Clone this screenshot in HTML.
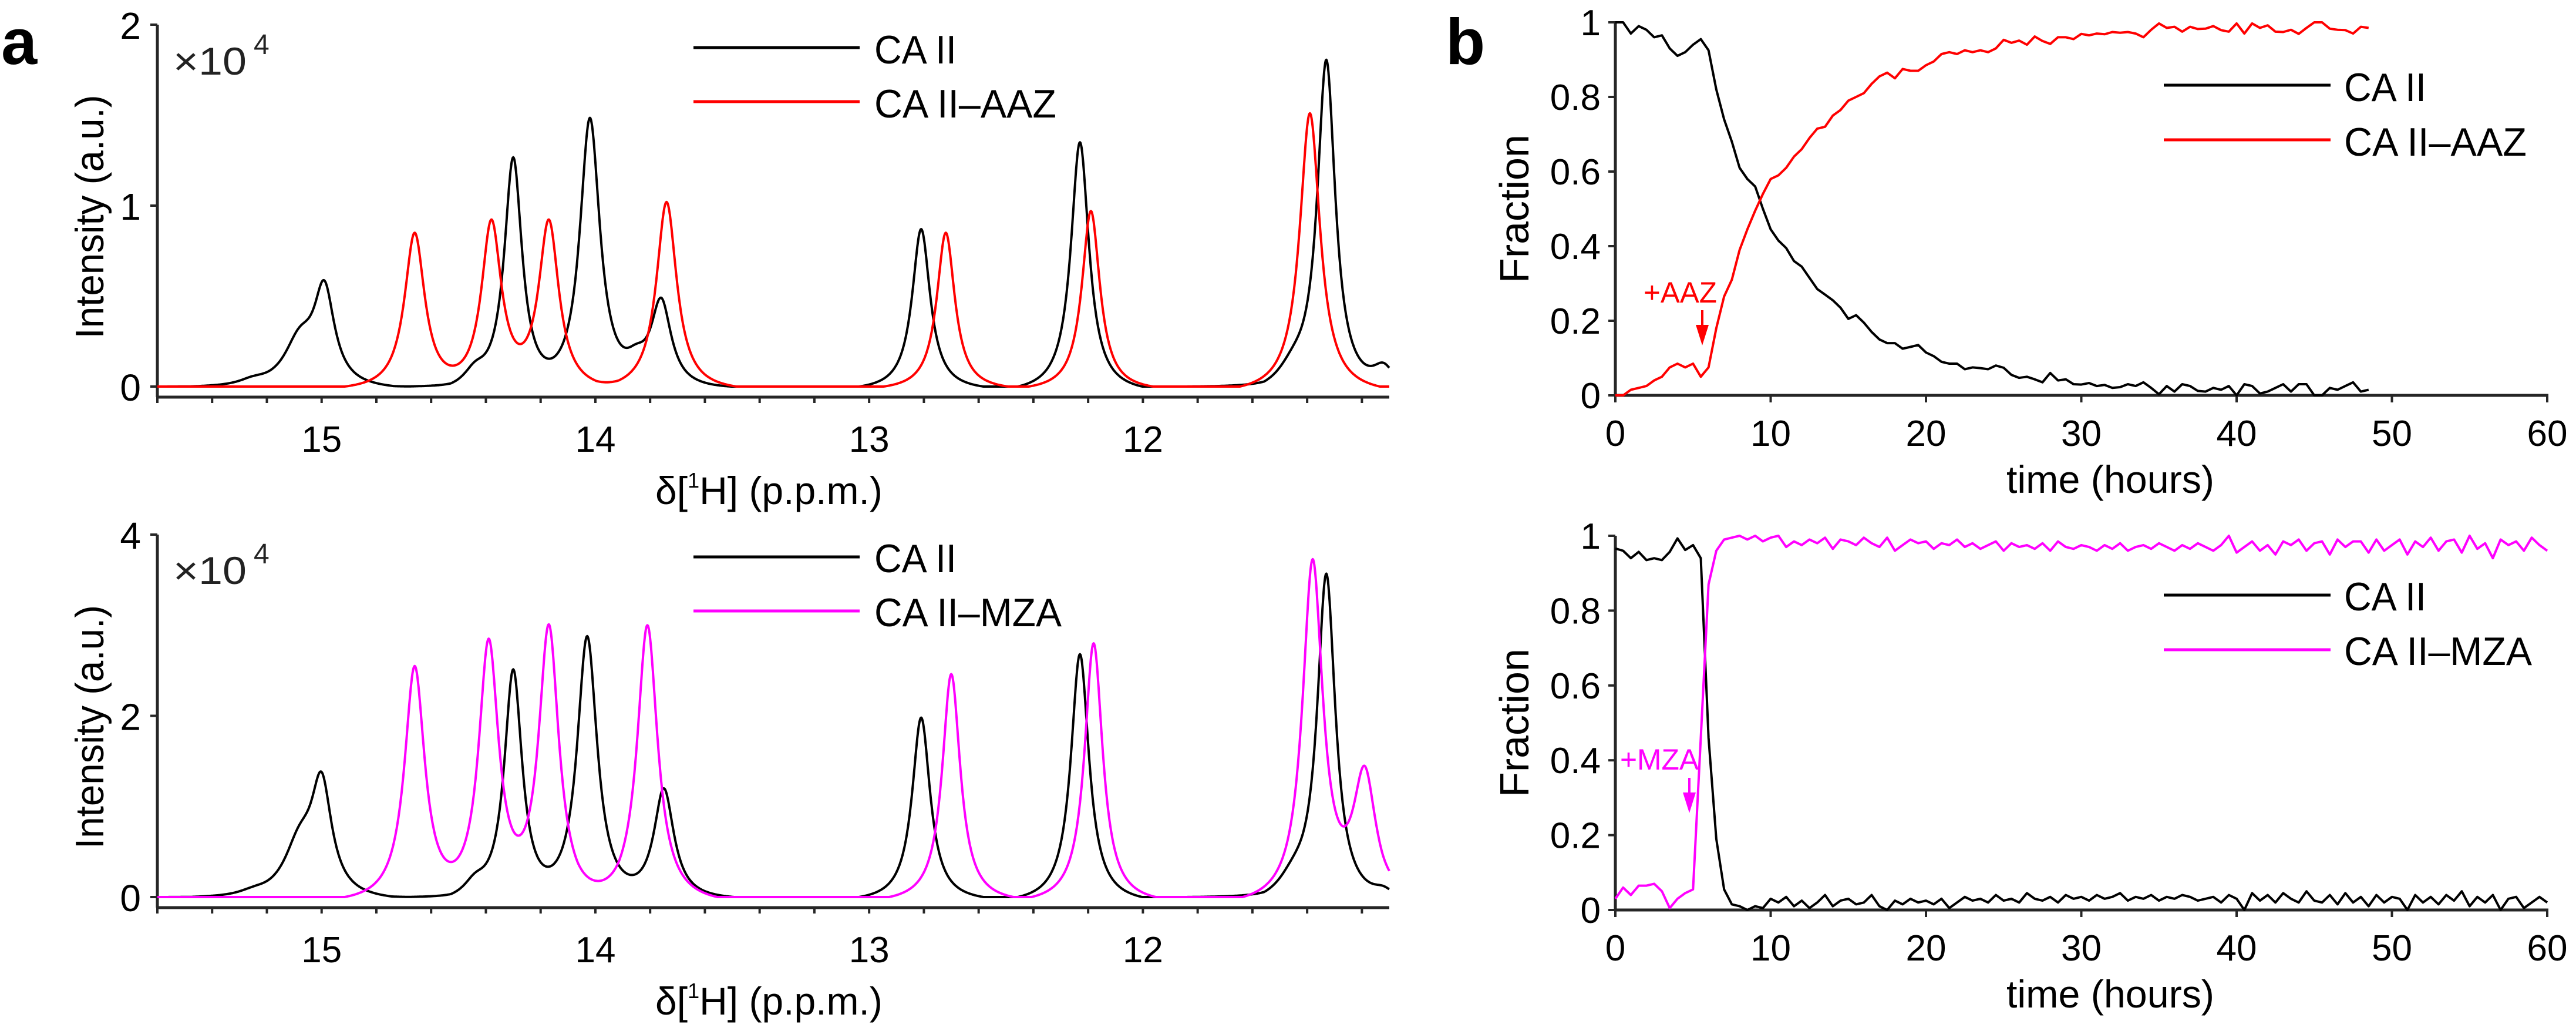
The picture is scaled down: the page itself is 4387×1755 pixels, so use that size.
<!DOCTYPE html>
<html><head><meta charset="utf-8"><style>
html,body{margin:0;padding:0;background:#fff;}
svg{display:block;}
.n{font-family:"Liberation Sans Narrow","Liberation Sans",sans-serif;}
.r{font-family:"Liberation Sans",sans-serif;}
</style></head><body>
<svg id="fig" width="4387" height="1755" viewBox="0 0 4387 1755" xmlns="http://www.w3.org/2000/svg">
<text x="2" y="109" class="r" font-size="110" font-weight="bold">a</text>
<text x="2462" y="109" class="r" font-size="110" font-weight="bold">b</text>
<g id="gA1"></g>
<g id="gA2"></g>
<g id="gB1"></g>
<g id="gB2"></g>
</svg>
<script>
// ---- Panel a data: peaks [center ppm, height (x1e4), half-width ppm]
const peaksA1Black = [[15.08,0.24,0.07],[14.99,0.5,0.045],[15.25,0.03,0.06],[14.30,1.26,0.04],[14.44,0.08,0.05],[14.02,1.48,0.045],[13.76,0.47,0.045],[13.85,0.1,0.05],[12.81,0.87,0.04],[12.23,1.35,0.04],[11.33,1.78,0.04],[11.45,0.1,0.07],[11.12,0.12,0.05]];
const peaksA1Red = [[14.66,0.85,0.045],[14.38,0.91,0.045],[14.17,0.91,0.045],[13.74,1.02,0.045],[12.72,0.85,0.04],[12.19,0.97,0.04],[11.39,1.51,0.045]];
const peaksA2Black = [[15.08,0.55,0.07],[15.0,1.15,0.045],[15.25,0.05,0.06],[14.30,2.5,0.04],[14.44,0.15,0.05],[14.03,2.88,0.045],[13.75,1.2,0.045],[12.81,1.98,0.04],[12.23,2.68,0.04],[11.33,3.52,0.04],[11.45,0.2,0.07],[11.12,0.1,0.05]];
const peaksA2Mag = [[14.66,2.55,0.045],[14.39,2.82,0.045],[14.17,2.98,0.045],[13.81,3.0,0.045],[12.70,2.46,0.04],[12.18,2.8,0.04],[11.38,3.68,0.045],[11.19,1.36,0.05]];
const ppmTicks = [15,14,13,12];
const intTicksA1 = [0,1,2];
const intTicksA2 = [0,2,4];
// ---- Panel b data (sampled every 0.5 h)
const fracB1Black = [1.0,1.0,0.97,0.99,0.98,0.96,0.965,0.93,0.91,0.92,0.94,0.955,0.925,0.82,0.74,0.68,0.61,0.58,0.56,0.50,0.445,0.415,0.395,0.36,0.345,0.315,0.285,0.27,0.255,0.235,0.205,0.215,0.195,0.17,0.15,0.14,0.14,0.125,0.13,0.135,0.115,0.105,0.09,0.085,0.085,0.07,0.075,0.073,0.07,0.08,0.074,0.055,0.047,0.05,0.043,0.035,0.06,0.04,0.043,0.03,0.029,0.033,0.025,0.028,0.02,0.022,0.03,0.025,0.035,0.02,0.003,0.025,0.01,0.03,0.025,0.012,0.01,0.02,0.015,0.025,0.0,0.03,0.025,0.005,0.01,0.02,0.03,0.01,0.03,0.03,0.0,0.0,0.02,0.015,0.025,0.035,0.01,0.015];
const fracB1Red = [0,0,0.015,0.02,0.025,0.04,0.05,0.075,0.085,0.075,0.085,0.05,0.075,0.18,0.265,0.31,0.39,0.445,0.495,0.54,0.58,0.59,0.61,0.64,0.66,0.69,0.715,0.72,0.75,0.765,0.79,0.8,0.81,0.835,0.855,0.865,0.85,0.875,0.87,0.87,0.885,0.895,0.915,0.92,0.915,0.925,0.92,0.925,0.92,0.93,0.953,0.945,0.951,0.94,0.962,0.95,0.942,0.96,0.96,0.955,0.969,0.965,0.97,0.968,0.974,0.972,0.974,0.97,0.96,0.98,0.997,0.985,0.988,0.975,0.988,0.982,0.983,0.99,0.979,0.975,0.997,0.97,0.997,0.985,0.992,0.975,0.974,0.98,0.969,0.985,1.0,1.0,0.983,0.98,0.979,0.97,0.988,0.985];
const fracB2Black = [0.966,0.96,0.94,0.957,0.935,0.94,0.935,0.957,0.993,0.962,0.975,0.94,0.46,0.19,0.055,0.015,0.01,0.0,0.01,
0.005,0.03,0.02,0.035,0.01,0.025,0.005,0.02,0.04,0.01,
0.025,0.03,0.015,0.02,0.04,0.01,0.0,0.025,0.015,0.03,
0.02,0.025,0.015,0.03,0.005,0.02,0.035,0.025,0.03,0.02,
0.04,0.025,0.03,0.02,0.045,0.03,0.025,0.035,0.02,0.04,
0.03,0.035,0.025,0.04,0.03,0.035,0.045,0.025,0.035,0.03,
0.04,0.025,0.035,0.03,0.04,0.035,0.025,0.03,0.035,0.02,
0.04,0.03,0.0,0.045,0.025,0.04,0.02,0.045,0.03,0.02,
0.05,0.025,0.02,0.04,0.015,0.045,0.02,0.035,0.01,0.04,
0.02,0.035,0.03,0.0,0.04,0.02,0.035,0.015,0.04,0.025,
0.05,0.01,0.035,0.02,0.04,0.0,0.03,0.035,0.005,0.02,
0.035,0.02];
const fracB2Mag = [0.03,0.06,0.04,0.065,0.065,0.07,0.05,0.005,0.03,0.045,0.055,0.46,0.87,0.96,0.99,0.995,1.0,
0.99,1.0,0.985,0.995,1.0,0.97,0.985,0.975,0.99,0.98,
0.995,0.965,0.99,0.985,0.975,0.995,0.98,0.97,0.995,0.96,
0.975,0.99,0.98,0.985,0.965,0.98,0.975,0.99,0.97,0.98,
0.965,0.975,0.985,0.96,0.98,0.97,0.975,0.965,0.98,0.96,
0.985,0.97,0.965,0.975,0.97,0.96,0.975,0.965,0.98,0.96,
0.97,0.975,0.965,0.98,0.97,0.96,0.975,0.965,0.98,0.97,
0.96,0.975,1.0,0.955,0.97,0.985,0.96,0.975,0.95,0.985,
0.975,0.99,0.96,0.98,0.985,0.95,0.99,0.97,0.985,0.985,
0.955,0.99,0.96,0.975,0.99,0.95,0.985,0.97,0.995,0.96,
0.985,0.99,0.955,1.0,0.965,0.98,0.94,0.99,0.975,0.985,
0.96,0.995,0.975,0.96];
const timeTicks = [0,10,20,30,40,50,60];
const fracTicks = [0,0.2,0.4,0.6,0.8,1];
const fracTickLabels = ["0","0.2","0.4","0.6","0.8","1"];
const SAMPLE_STEP_H = 0.5;

const NS = "http://www.w3.org/2000/svg";
const AX = "#262626";
function mk(parent, tag, attrs, text) {
  const e = document.createElementNS(NS, tag);
  for (const k in attrs) e.setAttribute(k, attrs[k]);
  if (text !== undefined) e.textContent = text;
  parent.appendChild(e);
  return e;
}
function pathD(pts) { return pts.map((p, i) => (i ? "L" : "M") + p[0].toFixed(1) + " " + p[1].toFixed(1)).join(""); }
function spectrum(peaks, x) {
  let s = 0;
  for (const [c, h, g] of peaks) {
    const L = 1 / (1 + ((x - c) / g) ** 2);
    s += h * Math.max(0, (L - 0.03) / 0.97);
  }
  return s;
}

function spectrumPanel(g, y0px, ytopPx, yMax, yTicks, axisY, blackPeaks, colPeaks, col, colName, legY1, legY2, legBase1, legBase2, expBase, xlabBase) {
  const xL = 268, xR = 2366, pL = 15.6, pR = 11.1;
  const xs = p => xL + (pL - p) / (pL - pR) * (xR - xL);
  const ys = v => y0px - v / yMax * (y0px - ytopPx);
  let e = mk(g, "line", {x1: xL, y1: ytopPx, x2: xL, y2: axisY, stroke: AX, "stroke-width": 5});
  
  
  e = mk(g, "line", {x1: xL - 2, y1: axisY, x2: xR, y2: axisY, stroke: AX, "stroke-width": 5});
  
  
  for (let k = 0; k <= 22; k++) {
    const p = 15.6 - k * 0.2;
    if (p < pR - 1e-6) break;
    const t = mk(g, "line", {x1: xs(p), y1: axisY, x2: xs(p), y2: axisY + 10, stroke: AX, "stroke-width": 4});
    
    
  }
  for (const p of ppmTicks) {
    const t = mk(g, "text", {x: xs(p), y: axisY + 93, "font-size": 62, "text-anchor": "middle", class: "n"}, String(p));
    
    
  }
  for (const v of yTicks) {
    const l = mk(g, "line", {x1: xL - 12, y1: ys(v), x2: xL, y2: ys(v), stroke: AX, "stroke-width": 4});
    
    
    const t = mk(g, "text", {x: xL - 28, y: ys(v) + 24, "font-size": 64, "text-anchor": "end", class: "n"}, String(v));
    
    
  }
  const bp = [], cp = [];
  for (let x = pL; x >= pR - 1e-9; x -= 0.002) {
    bp.push([xs(x), ys(spectrum(blackPeaks, x))]);
    cp.push([xs(x), ys(spectrum(colPeaks, x))]);
  }
  const lb = mk(g, "path", {d: pathD(bp), fill: "none", stroke: "#000", "stroke-width": 4, "stroke-linejoin": "round"});
  
  
  const lc = mk(g, "path", {d: pathD(cp), fill: "none", stroke: col, "stroke-width": 4, "stroke-linejoin": "round"});
  
  
  const lg = mk(g, "g", {});
  
  
  let q = mk(lg, "line", {x1: 1181, y1: legY1, x2: 1464, y2: legY1, stroke: "#000", "stroke-width": 5});
  
  
  q = mk(lg, "text", {x: 1489, y: legBase1, "font-size": 68, class: "n", textLength: 140, lengthAdjust: "spacingAndGlyphs"}, "CA II");
  
  
  q = mk(lg, "line", {x1: 1181, y1: legY2, x2: 1464, y2: legY2, stroke: col, "stroke-width": 5});
  
  
  q = mk(lg, "text", {x: 1489, y: legBase2, "font-size": 68, class: "n", textLength: colName === "AAZ" ? 310 : 319, lengthAdjust: "spacingAndGlyphs"}, "CA II\u2013" + colName);
  
  
  q = mk(g, "text", {x: 295, y: expBase, "font-size": 66, class: "n", fill: "#222", textLength: 125, lengthAdjust: "spacingAndGlyphs"}, "\u00d710");
  
  
  q = mk(g, "text", {x: 432, y: expBase - 35, "font-size": 48, class: "n", fill: "#222"}, "4");
  
  
  const ymid = (ytopPx + axisY) / 2 + 10;
  q = mk(g, "text", {x: 0, y: 0, "font-size": 68, class: "r", "text-anchor": "middle", transform: "translate(176," + ymid + ") rotate(-90)", textLength: 415, lengthAdjust: "spacingAndGlyphs"}, "Intensity (a.u.)");
  
  
  const xl = mk(g, "text", {x: 1116, y: xlabBase, "font-size": 66, class: "n"});
  
  
  xl.appendChild(document.createTextNode("\u03b4["));
  const sup = mk(xl, "tspan", {"font-size": 36, dy: -28}, "1");
  
  
  const rest = mk(xl, "tspan", {dy: 28}, "H] (p.p.m.)");
  
  
}

function fractionPanel(g, y0px, y1px, seriesBlack, seriesCol, col, colName, legY1, legY2, legBase1, legBase2, ann) {
  const xL = 2751, xR = 4338;
  const xs = t => xL + t / 60 * (xR - xL);
  const ys = v => y0px - v * (y0px - y1px);
  let e = mk(g, "line", {x1: xL, y1: y1px, x2: xL, y2: y0px, stroke: AX, "stroke-width": 5});
  
  
  e = mk(g, "line", {x1: xL - 2, y1: y0px, x2: xR + 2, y2: y0px, stroke: AX, "stroke-width": 5});
  
  
  for (const t of timeTicks) {
    const l = mk(g, "line", {x1: xs(t), y1: y0px, x2: xs(t), y2: y0px + 12, stroke: AX, "stroke-width": 4});
    
    
    const tx = mk(g, "text", {x: xs(t), y: y0px + 86, "font-size": 62, "text-anchor": "middle", class: "n"}, String(t));
    
    
  }
  fracTicks.forEach((v, i) => {
    const l = mk(g, "line", {x1: xL - 12, y1: ys(v), x2: xL, y2: ys(v), stroke: AX, "stroke-width": 4});
    
    
    const tx = mk(g, "text", {x: xL - 25, y: ys(v) + 22, "font-size": 62, "text-anchor": "end", class: "n"}, fracTickLabels[i]);
    
    
  });
  const timesBlack = seriesBlack.map((_, i) => i * SAMPLE_STEP_H);
  const timesCol = seriesCol.map((_, i) => i * SAMPLE_STEP_H);
  const lb = mk(g, "path", {d: pathD(seriesBlack.map((v, i) => [xs(timesBlack[i]), ys(v)])), fill: "none", stroke: "#000", "stroke-width": 4, "stroke-linejoin": "round"});
  
  
  const lc = mk(g, "path", {d: pathD(seriesCol.map((v, i) => [xs(timesCol[i]), ys(v)])), fill: "none", stroke: col, "stroke-width": 4, "stroke-linejoin": "round"});
  
  
  const lg = mk(g, "g", {});
  
  
  let q = mk(lg, "line", {x1: 3685, y1: legY1, x2: 3969, y2: legY1, stroke: "#000", "stroke-width": 5});
  
  
  q = mk(lg, "text", {x: 3992, y: legBase1, "font-size": 68, class: "n", textLength: 140, lengthAdjust: "spacingAndGlyphs"}, "CA II");
  
  
  q = mk(lg, "line", {x1: 3685, y1: legY2, x2: 3969, y2: legY2, stroke: col, "stroke-width": 5});
  
  
  q = mk(lg, "text", {x: 3992, y: legBase2, "font-size": 68, class: "n", textLength: colName === "AAZ" ? 311 : 320, lengthAdjust: "spacingAndGlyphs"}, "CA II\u2013" + colName);
  
  
  q = mk(g, "text", {x: 0, y: 0, "font-size": 70, class: "r", "text-anchor": "middle", transform: "translate(2603," + ((y0px + y1px) / 2) + ") rotate(-90)"}, "Fraction");
  
  
  q = mk(g, "text", {x: 3594, y: y0px + 166, "font-size": 66, class: "n", "text-anchor": "middle", textLength: 354, lengthAdjust: "spacingAndGlyphs"}, "time (hours)");
  
  
  q = mk(g, "text", {x: ann.tx, y: ann.ty, "font-size": 50, class: ann.cls, fill: col, textLength: ann.tw, lengthAdjust: "spacingAndGlyphs"}, "+" + colName);
  
  
  q = mk(g, "line", {x1: ann.ax, y1: ann.ay1, x2: ann.ax, y2: ann.ah, stroke: col, "stroke-width": 4});
  
  
  q = mk(g, "polygon", {points: (ann.ax - 11) + "," + ann.ah + " " + (ann.ax + 11) + "," + ann.ah + " " + ann.ax + "," + ann.ay2, fill: col});
  
  
}

spectrumPanel(document.getElementById("gA1"), 658, 42, 2, intTicksA1, 676, peaksA1Black, peaksA1Red, "#ff0000", "AAZ", 81, 173, 108, 200, 127, 858);
spectrumPanel(document.getElementById("gA2"), 1527, 910, 4, intTicksA2, 1545, peaksA2Black, peaksA2Mag, "#ff00ff", "MZA", 948, 1040, 974, 1066, 994, 1727);
fractionPanel(document.getElementById("gB1"), 673, 38, fracB1Black, fracB1Red, "#ff0000", "AAZ", 145, 238, 172, 265, {tx: 2799, ty: 515, cls: "r", tw: 125, ax: 2899, ay1: 528, ah: 553, ay2: 588});
fractionPanel(document.getElementById("gB2"), 1549, 912, fracB2Black, fracB2Mag, "#ff00ff", "MZA", 1013, 1106, 1039, 1132, {tx: 2759, ty: 1310, cls: "n", tw: 134, ax: 2877, ay1: 1324, ah: 1349, ay2: 1384});
</script>
</body></html>
